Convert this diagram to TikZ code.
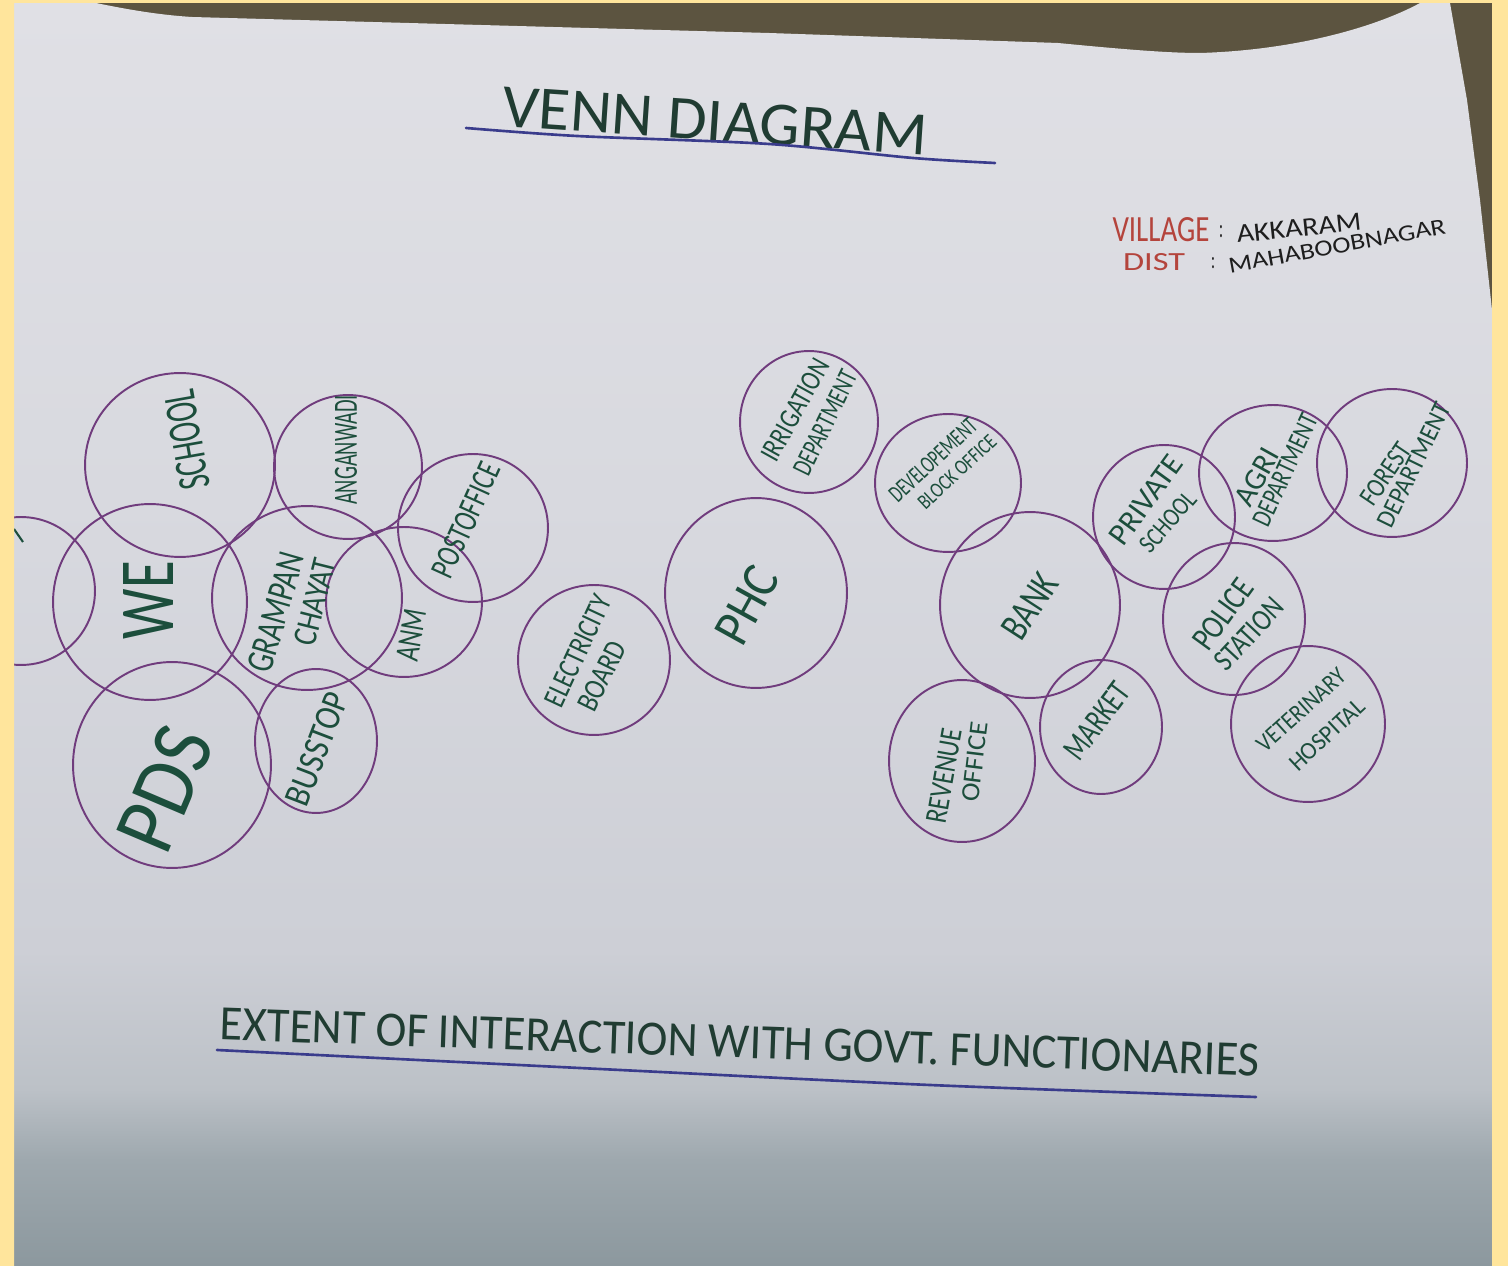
\documentclass[tikz,border=0pt]{standalone}
\usepackage{fontspec}
\usepackage{graphicx}
\usetikzlibrary{shapes.geometric}
\newfontfamily\hand{Carlito}
\newlength\px \setlength\px{0.02cm}
\newcommand\fit[3]{\resizebox{#1\px}{#2\px}{\hand #3}}
\definecolor{ybg}{RGB}{255,229,156}
\definecolor{carpet}{RGB}{92,84,64}
\definecolor{pt}{RGB}{224,224,229}
\definecolor{p1}{RGB}{216,217,223}
\definecolor{p2}{RGB}{205,207,214}
\definecolor{p3}{RGB}{188,193,199}
\definecolor{p4}{RGB}{158,168,174}
\definecolor{pb}{RGB}{140,152,158}
\definecolor{circcol}{RGB}{112,60,125}
\definecolor{txtcol}{RGB}{28,78,60}
\definecolor{titlecol}{RGB}{32,60,50}
\definecolor{ulcol}{RGB}{58,60,140}
\definecolor{redcol}{RGB}{180,68,60}
\definecolor{blk}{RGB}{30,30,30}
\pgfdeclareverticalshading{papershade}{100bp}{color(0bp)=(pb); color(25bp)=(pb); color(29.2bp)=(p4); color(32bp)=(p3); color(37.5bp)=(p2); color(55.3bp)=(p1); color(75bp)=(pt); color(100bp)=(pt)}
\begin{document}
\begin{tikzpicture}[x=0.02cm,y=-0.02cm,
  circ/.style 2 args={ellipse, draw=circcol, line width=1.1pt, inner sep=0pt, outer sep=0pt, minimum width=#1*0.04cm, minimum height=#2*0.04cm},
  lab/.style={text=txtcol, inner sep=0pt, rotate=#1},
  uline/.style={draw=ulcol, line width=1.5pt, line cap=round}]
\useasboundingbox (0,0) rectangle (1508,1266);
% carpet and paper
\fill[carpet] (14,0) rectangle (1492,330);
\shade[shading=papershade] (14,3) -- (96,3) .. controls (130,10) and (160,15) .. (192,17)
  -- (481,25) -- (769,33) -- (1058,43) .. controls (1130,50) and (1170,53) .. (1200,53)
  .. controls (1300,50) and (1380,25) .. (1420,3) -- (1450,3) -- (1467,100) -- (1480,200)
  -- (1492,310) -- (1492,1266) -- (14,1266) -- cycle;
% title
\node[lab=-3.9, text=titlecol] (title) at (715,121) {\fit{425}{40}{VENN DIAGRAM}};
\draw[uline] plot[smooth] coordinates {(466,128) (577,136) (769,144) (913,158) (995,163)};
% village info
\node[lab=0, text=redcol] (vil) at (1161,230) {\fit{97}{24}{VILLAGE}};
\node[lab=0, text=blk] (colA) at (1221,232) {\fit{4}{12}{:}};
\node[lab=6, text=blk] (akk) at (1299,228) {\fit{125}{17}{AKKARAM}};
\node[lab=0, text=redcol] (dist) at (1154,262) {\fit{62}{17}{DIST}};
\node[lab=0, text=blk] (colB) at (1213,263) {\fit{4}{11}{:}};
\node[lab=10.4, text=blk] (maha) at (1337,246) {\fit{220}{15}{MAHABOOBNAGAR}};
% circles
\node[circ={74}{74}] (lft) at (21,591) {};
\node[circ={95}{92}] (cschool) at (180,465) {};
\node[circ={97}{98}] (cwe) at (150,602) {};
\node[circ={74}{72}] (cang) at (348,467) {};
\node[circ={95}{92}] (cgp) at (307,598) {};
\node[circ={78}{75}] (canm) at (404,602) {};
\node[circ={75}{74}] (cpost) at (473,528) {};
\node[circ={99}{103}] (cpds) at (172,765) {};
\node[circ={61}{72}] (cbus) at (316,741) {};
\node[circ={76}{75}] (ceb) at (594,660) {};
\node[circ={91}{95}] (cphc) at (756,593) {};
\node[circ={69}{71}] (cirr) at (809,422) {};
\node[circ={73}{69}] (cdev) at (948,483) {};
\node[circ={90}{93}] (cbank) at (1030,605) {};
\node[circ={73}{81}] (crev) at (962,761) {};
\node[circ={61}{67}] (cmkt) at (1101,727) {};
\node[circ={71}{72}] (cpvt) at (1164,517) {};
\node[circ={74}{68}] (cagri) at (1273,473) {};
\node[circ={75}{74}] (cfor) at (1392,463) {};
\node[circ={71}{76}] (cpol) at (1234,619) {};
\node[circ={77}{78}] (cvet) at (1308,724) {};
% cut-off label fragment at the left edge
\draw[txtcol, line width=1.2pt] (14,529) -- (23,542);
% labels
\node[lab=100] (tschool) at (187,440) {\fit{100}{30}{SCHOOL}};
\node[lab=90] (tang) at (346,450) {\fit{110}{22}{ANGANWADI}};
\node[lab=65.6] (tpost) at (466,520) {\fit{122}{22}{POSTOFFICE}};
\node[lab=90] (twe) at (148,600) {\fit{78}{50}{WE}};
\node[lab=74] (tgp1) at (276,612) {\fit{123}{25}{GRAMPAN}};
\node[lab=76] (tgp2) at (315,602) {\fit{88}{22}{CHAYAT}};
\node[lab=80] (tanm) at (411,635) {\fit{52}{22}{ANM}};
\node[lab=67] (tpds) at (165,789) {\fit{125}{57}{PDS}};
\node[lab=69] (tbus) at (317,749) {\fit{118}{24}{BUSSTOP}};
\node[lab=65] (teb1) at (578,651) {\fit{120}{20}{ELECTRICITY}};
\node[lab=64] (teb2) at (602,676) {\fit{74}{20}{BOARD}};
\node[lab=61] (tphc) at (747,605) {\fit{80}{34}{PHC}};
\node[lab=61] (tirr1) at (795,410) {\fit{112}{19}{IRRIGATION}};
\node[lab=64] (tirr2) at (825,423) {\fit{113}{18}{DEPARTMENT}};
\node[lab=43] (tdev1) at (933,460) {\fit{111}{16}{DEVELOPEMENT}};
\node[lab=43] (tdev2) at (957,472) {\fit{99}{14}{BLOCK OFFICE}};
\node[lab=57] (tbank) at (1030,606) {\fit{70}{26}{BANK}};
\node[lab=80] (trev1) at (944,776) {\fit{96}{20}{REVENUE}};
\node[lab=83] (trev2) at (975,762) {\fit{80}{17}{OFFICE}};
\node[lab=53] (tmkt) at (1097,721) {\fit{87}{22}{MARKET}};
\node[lab=54] (tpvt1) at (1146,500) {\fit{104}{20}{PRIVATE}};
\node[lab=49] (tpvt2) at (1168,522) {\fit{72}{17}{SCHOOL}};
\node[lab=61] (tagri1) at (1257,477) {\fit{61}{20}{AGRI}};
\node[lab=65] (tagri2) at (1285,470) {\fit{120}{18}{DEPARTMENT}};
\node[lab=56] (tfor1) at (1386,474) {\fit{70}{18}{FOREST}};
\node[lab=64] (tfor2) at (1414,465) {\fit{136}{17}{DEPARTMENT}};
\node[lab=54] (tpol1) at (1223,614) {\fit{80}{22}{POLICE}};
\node[lab=47] (tpol2) at (1249,634) {\fit{87}{20}{STATION}};
\node[lab=42] (tvet1) at (1301,710) {\fit{111}{16}{VETERINARY}};
\node[lab=43] (tvet2) at (1327,735) {\fit{94}{16}{HOSPITAL}};
% bottom caption
\node[lab=-2.0, text=titlecol] (caption) at (740,1042) {\fit{1040}{32}{EXTENT OF INTERACTION WITH GOVT. FUNCTIONARIES}};
\draw[uline] plot[smooth] coordinates {(217,1050) (600,1069) (930,1085) (1256,1097)};
% yellow frame
\fill[ybg, even odd rule] (0,0) rectangle (1508,1266) (14,3) rectangle (1492,1266);
\end{tikzpicture}
\end{document}
